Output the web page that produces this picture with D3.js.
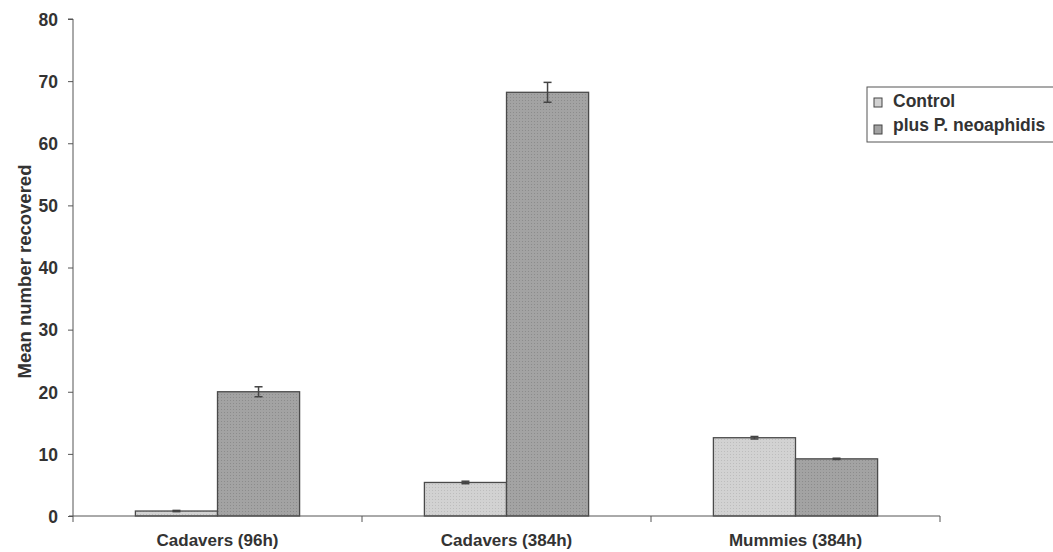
<!DOCTYPE html>
<html><head><meta charset="utf-8">
<script src="https://cdn.jsdelivr.net/npm/d3@7"></script>
<style>body{margin:0;background:#fff}svg{display:block}text{font-family:"Liberation Sans",Arial,sans-serif;font-weight:bold;fill:#333}</style>
</head><body><svg id="c" width="1053" height="552"></svg>
<script>
const categories = ["Cadavers (96h)", "Cadavers (384h)", "Mummies (384h)"];
const seriesNames = ["Control", "plus P. neoaphidis"];
const controlValues = [0.8, 5.4, 12.6];
const controlErrors = [0.1, 0.2, 0.2];
const treatedValues = [20.0, 68.2, 9.2];
const treatedErrors = [0.8, 1.6, 0.1];
const yTicks = [0, 10, 20, 30, 40, 50, 60, 70, 80];

const svg = d3.select("#c");
const m = {l: 73, r: 113, t: 19, b: 36};
const W = 1053, H = 552;
const x0 = d3.scaleBand().domain(categories).range([m.l, W - m.r]).paddingInner(0).paddingOuter(0);
const x1 = d3.scaleBand().domain(seriesNames).range([0, x0.bandwidth()]).paddingInner(0).paddingOuter(0.76);
const y = d3.scaleLinear().domain([0, 80]).range([H - m.b, m.t]);
const colors = {"Control": "#d2d2d2", "plus P. neoaphidis": "#a3a3a3"};

const defs = svg.append("defs");
seriesNames.forEach((s, i) => {
  const p = defs.append("pattern").attr("id", "p" + i).attr("width", 3).attr("height", 3).attr("patternUnits", "userSpaceOnUse");
  p.append("rect").attr("width", 3).attr("height", 3).attr("fill", colors[s]);
  p.append("rect").attr("x", 1).attr("y", 1).attr("width", 1).attr("height", 1).attr("fill", i ? "#8c8c8c" : "#bdbdbd");
});

const data = categories.map((c, i) => ({
  cat: c,
  vals: [
    {s: seriesNames[0], v: controlValues[i], e: controlErrors[i], idx: 0},
    {s: seriesNames[1], v: treatedValues[i], e: treatedErrors[i], idx: 1}
  ]
}));

const g = svg.append("g").selectAll("g").data(data).join("g")
  .attr("transform", d => `translate(${x0(d.cat)},0)`);
g.selectAll("rect").data(d => d.vals).join("rect")
  .attr("x", d => x1(d.s)).attr("width", x1.bandwidth())
  .attr("y", d => y(d.v)).attr("height", d => y(0) - y(d.v))
  .attr("fill", d => `url(#p${d.idx})`).attr("stroke", "#4a4a4a").attr("stroke-width", 1.3);
const eb = g.selectAll("g.eb").data(d => d.vals).join("g").attr("class", "eb")
  .attr("stroke", "#444").attr("stroke-width", 1.5);
eb.append("line").attr("x1", d => x1(d.s) + x1.bandwidth() / 2).attr("x2", d => x1(d.s) + x1.bandwidth() / 2)
  .attr("y1", d => y(d.v + d.e)).attr("y2", d => y(d.v - d.e));
eb.append("line").attr("x1", d => x1(d.s) + x1.bandwidth() / 2 - 4).attr("x2", d => x1(d.s) + x1.bandwidth() / 2 + 4)
  .attr("y1", d => y(d.v + d.e)).attr("y2", d => y(d.v + d.e));
eb.append("line").attr("x1", d => x1(d.s) + x1.bandwidth() / 2 - 4).attr("x2", d => x1(d.s) + x1.bandwidth() / 2 + 4)
  .attr("y1", d => y(d.v - d.e)).attr("y2", d => y(d.v - d.e));

const ya = svg.append("g").attr("transform", `translate(${m.l},0)`)
  .call(d3.axisLeft(y).tickValues(yTicks).tickSize(5).tickPadding(10));
ya.select(".domain").attr("stroke", "#555").attr("d", `M-5,${y(80)}H0V${y(0)}`);
ya.selectAll(".tick line").attr("stroke", "#555");
ya.selectAll("text").attr("font-size", 17.5).attr("fill", "#333").attr("dy", "0.36em")
  .style("font-family", "Liberation Sans, Arial").style("font-weight", "bold");

const xa = svg.append("g").attr("transform", `translate(0,${y(0)})`);
xa.append("line").attr("x1", m.l - 4).attr("x2", W - m.r).attr("stroke", "#555");
const bounds = categories.map(c => x0(c)).concat([x0(categories[categories.length - 1]) + x0.bandwidth()]);
xa.selectAll("line.t").data(bounds).join("line").attr("class", "t")
  .attr("x1", d => d).attr("x2", d => d).attr("y1", 0).attr("y2", 6).attr("stroke", "#555");
xa.selectAll("text").data(categories).join("text")
  .attr("x", d => x0(d) + x0.bandwidth() / 2).attr("y", 30).attr("text-anchor", "middle")
  .attr("font-size", 17).text(d => d);

svg.append("text").attr("transform", `translate(31,${(y(0) + y(80)) / 2 + 4}) rotate(-90)`)
  .attr("text-anchor", "middle").attr("font-size", 18.5).text("Mean number recovered");

const lg = svg.append("g").attr("transform", "translate(867,87)");
lg.append("rect").attr("width", 200).attr("height", 55).attr("fill", "#fff").attr("stroke", "#555");
seriesNames.forEach((s, i) => {
  lg.append("rect").attr("x", 7).attr("y", 11 + i * 27).attr("width", 8).attr("height", 9)
    .attr("fill", colors[s]).attr("stroke", "#444");
  lg.append("text").attr("x", 26).attr("y", 20 + i * 24).attr("font-size", 17.5).text(s);
});
</script></body></html>
